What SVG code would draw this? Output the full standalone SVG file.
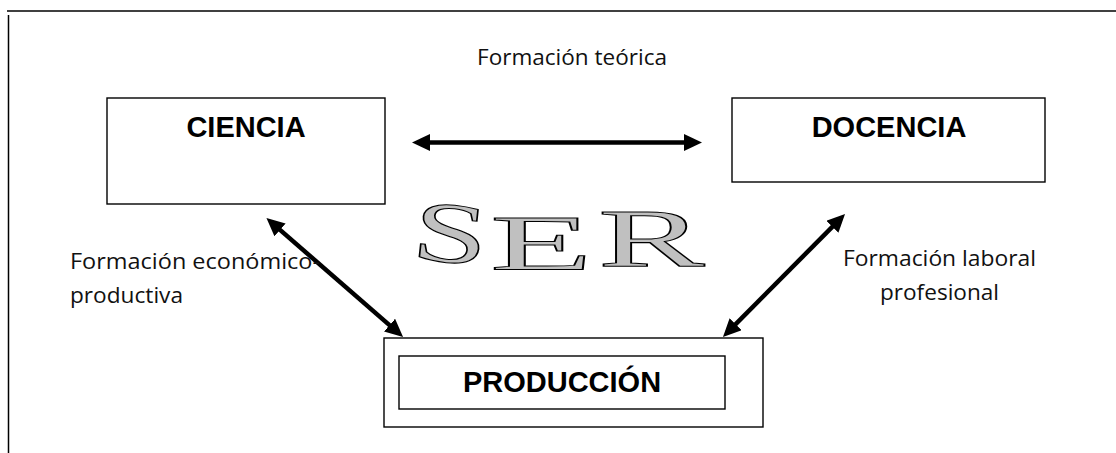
<svg xmlns="http://www.w3.org/2000/svg" width="1116" height="453" viewBox="0 0 1116 453">
<style>
.box{fill:#fff;stroke:#000;stroke-width:1.4}
.title{font-family:"Liberation Sans",Arial,sans-serif;font-weight:bold;font-size:29px;fill:#000;text-anchor:middle}
.lbl{font-family:"Open Sans","Noto Sans",sans-serif;font-size:22px;fill:#111}
.arrow{stroke:#000;stroke-width:4.5;fill:none;marker-start:url(#ah);marker-end:url(#ah)}
.ser{font-family:"Liberation Serif","Times New Roman",serif;font-size:80px;fill:#c0c0c0;stroke:#000;stroke-width:1}
</style>
<defs>
<marker id="ah" markerUnits="userSpaceOnUse" markerWidth="18" markerHeight="17" refX="8" refY="8.5" orient="auto-start-reverse" viewBox="0 0 18 17">
<path d="M0,0 L18,8.5 L0,17 z" fill="#000"/>
</marker>
</defs>
<rect width="1116" height="453" fill="#fff"/>
<g id="frame">
<line x1="7" y1="11" x2="1116" y2="11" stroke="#000" stroke-width="1.5"/>
<line x1="8.5" y1="15" x2="8.5" y2="453" stroke="#000" stroke-width="1.5"/>
</g>
<g id="ciencia">
<rect class="box" x="107" y="98" width="278" height="106"/>
<text class="title" x="246" y="137">CIENCIA</text>
</g>
<g id="docencia">
<rect class="box" x="732" y="98" width="313" height="84"/>
<text class="title" x="889" y="137">DOCENCIA</text>
</g>
<g id="produccion">
<rect class="box" x="384" y="338" width="379" height="89"/>
<rect class="box" x="399" y="356" width="326" height="53" stroke-width="1.2"/>
<text class="title" x="562" y="392">PRODUCCIÓN</text>
</g>
<g id="ser">
<text class="ser" transform="translate(410,258) rotate(6) scale(1.7,1.08)">S</text>
<text class="ser" transform="translate(490,269) scale(2.1,0.99)">E</text>
<text class="ser" transform="translate(598,266) scale(2.0,1.02)">R</text>
</g>
<g id="connectors">
<path class="arrow" d="M422,142.5 L692,142.5"/>
<path class="arrow" d="M274,224.6 L395.5,330.4"/>
<path class="arrow" d="M838,221.1 L730,329.9"/>
</g>
<g id="labels">
<text class="lbl" x="477" y="65" textLength="190" lengthAdjust="spacingAndGlyphs">Formación teórica</text>
<text class="lbl" x="70" y="269" textLength="250" lengthAdjust="spacingAndGlyphs">Formación económico-</text>
<text class="lbl" x="70" y="303" textLength="113" lengthAdjust="spacingAndGlyphs">productiva</text>
<text class="lbl" x="843" y="266" textLength="193" lengthAdjust="spacingAndGlyphs">Formación laboral</text>
<text class="lbl" x="880" y="300" textLength="119" lengthAdjust="spacingAndGlyphs">profesional</text>
</g>
</svg>
